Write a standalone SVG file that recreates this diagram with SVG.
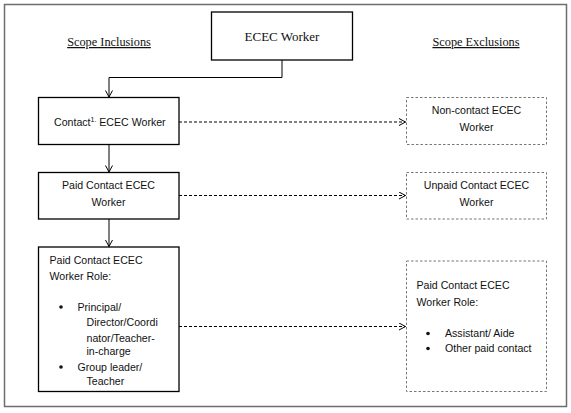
<svg xmlns="http://www.w3.org/2000/svg" width="571" height="413" viewBox="0 0 571 413">
<style>
.frame{fill:#fff;stroke:#6e6e6e;stroke-width:1.5}
.solid{fill:#fff;stroke:#000;stroke-width:1.3}
.dash{fill:#fff;stroke:#777;stroke-width:1;stroke-dasharray:2.5,2}
.ser{font-family:"Liberation Serif","Times New Roman",serif;fill:#111}
.sans{font-family:"Liberation Sans",Arial,sans-serif;font-size:10.6px;fill:#111}
.mid{text-anchor:middle}
.conn{fill:none;stroke:#000;stroke-width:1}
.dconn{fill:none;stroke:#000;stroke-width:1;stroke-dasharray:3,2}
</style>
<defs>
<marker id="arr" markerWidth="10" markerHeight="10" refX="7" refY="4" orient="auto" markerUnits="userSpaceOnUse">
<path d="M0.5,0.5 L7,4 L0.5,7.5" fill="none" stroke="#000" stroke-width="1"/>
</marker>
</defs>
<rect x="0" y="0" width="571" height="413" fill="#fff"/>
<rect class="frame" x="4.5" y="4.5" width="562" height="402"/>
<g id="labels">
<text class="ser mid" x="109" y="46" font-size="12.3" text-decoration="underline">Scope Inclusions</text>
<text class="ser mid" x="476" y="46" font-size="12.3" text-decoration="underline">Scope Exclusions</text>
</g>
<g id="ecec-worker">
<rect class="solid" x="211.5" y="12" width="141" height="48"/>
<text class="ser mid" x="282" y="40.5" font-size="13">ECEC Worker</text>
</g>
<g id="contact">
<rect class="solid" x="38.5" y="97.5" width="140.5" height="47"/>
<text class="sans" x="54" y="126">Contact<tspan font-size="7" dy="-4">1.</tspan><tspan dy="4"> ECEC Worker</tspan></text>
</g>
<g id="non-contact">
<rect class="dash" x="406.5" y="97.5" width="140" height="47"/>
<text class="sans mid" x="476.5" y="114">Non-contact ECEC</text>
<text class="sans mid" x="476.5" y="131">Worker</text>
</g>
<g id="paid-contact">
<rect class="solid" x="38.5" y="172.5" width="140.5" height="46.5"/>
<text class="sans mid" x="108.5" y="189">Paid Contact ECEC</text>
<text class="sans mid" x="108.5" y="205.5">Worker</text>
</g>
<g id="unpaid-contact">
<rect class="dash" x="406.5" y="172.5" width="140" height="46.5"/>
<text class="sans mid" x="476.5" y="189">Unpaid Contact ECEC</text>
<text class="sans mid" x="476.5" y="205.5">Worker</text>
</g>
<g id="paid-role-incl">
<rect class="solid" x="38.5" y="247" width="140.5" height="144.5"/>
<text class="sans" x="49.5" y="264">Paid Contact ECEC</text>
<text class="sans" x="49.5" y="279.5">Worker Role:</text>
<circle cx="61" cy="307" r="1.8" fill="#111"/>
<text class="sans" x="77.5" y="310.5">Principal/</text>
<text class="sans" x="86.5" y="326">Director/Coordi</text>
<text class="sans" x="86.5" y="341.5">nator/Teacher-</text>
<text class="sans" x="86.5" y="355">in-charge</text>
<circle cx="61" cy="367" r="1.8" fill="#111"/>
<text class="sans" x="77.5" y="370.5">Group leader/</text>
<text class="sans" x="86.5" y="385">Teacher</text>
</g>
<g id="paid-role-excl">
<rect class="dash" x="406.5" y="261" width="140" height="130.5"/>
<text class="sans" x="416.5" y="289">Paid Contact ECEC</text>
<text class="sans" x="416.5" y="305.5">Worker Role:</text>
<circle cx="428" cy="333.5" r="1.8" fill="#111"/>
<text class="sans" x="445" y="337">Assistant/ Aide</text>
<circle cx="428" cy="348.5" r="1.8" fill="#111"/>
<text class="sans" x="445" y="352">Other paid contact</text>
</g>
<g id="connectors">
<path class="conn" d="M282,60 V77.5 H109 V97" marker-end="url(#arr)"/>
<path class="conn" d="M109,144.5 V172" marker-end="url(#arr)"/>
<path class="conn" d="M109,219 V246.5" marker-end="url(#arr)"/>
<path class="dconn" d="M179,122 H405.5" marker-end="url(#arr)"/>
<path class="dconn" d="M179,195.5 H405.5" marker-end="url(#arr)"/>
<path class="dconn" d="M179,326.5 H405.5" marker-end="url(#arr)"/>
</g>
</svg>
